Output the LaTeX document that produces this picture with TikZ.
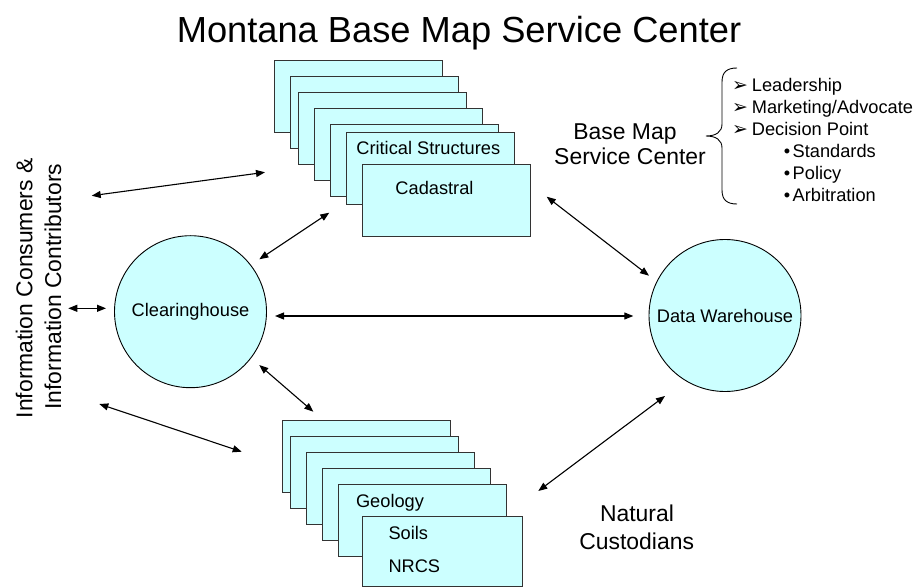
\documentclass[tikz,border=0pt]{standalone}
\usepackage{fontspec}
\setmainfont{Liberation Sans}
\newfontfamily\dejavu{DejaVu Sans}
\usetikzlibrary{arrows.meta}
\definecolor{cardfill}{HTML}{CCFFFF}
\begin{document}
\begin{tikzpicture}[x=1bp,y=-1bp,
  card/.style={draw=black!80, fill=cardfill, line width=0.9bp, minimum width=168bp, minimum height=72bp, anchor=north west, inner sep=0pt},
  hub/.style={circle, draw=black, fill=cardfill, line width=0.9bp, minimum size=152bp, inner sep=0pt, font=\fontsize{18.3}{20}\selectfont},
  lbl/.style={inner sep=0pt, anchor=base},
  lblw/.style={inner sep=0pt, anchor=base west},
  small/.style={font=\fontsize{18.3}{20}\selectfont},
  big/.style={font=\fontsize{23}{26}\selectfont},
  link/.style={{Triangle[length=9bp,width=7bp]}-{Triangle[length=9bp,width=7bp]}, line width=1.1bp, draw=black}]
\useasboundingbox (0,0) rectangle (919,588);
% title
\node[lbl, font=\fontsize{36.4}{40}\selectfont] (title) at (459,43) {Montana Base Map Service Center};
% top stack
\node[card] (t1) at (274,60) {};
\node[card] (t2) at (290,76) {};
\node[card] (t3) at (298,92) {};
\node[card] (t4) at (314,108) {};
\node[card] (t5) at (330,124) {};
\node[card] (t6) at (346,132) {};
\node[lbl, small] (crit) at (428.3,155) {Critical Structures};
\node[card] (t7) at (362,164) {};
\node[lbl, small] (cad) at (434.5,195) {Cadastral};
% bottom stack
\node[card] (b1) at (282,420) {};
\node[card] (b2) at (290,436) {};
\node[card] (b3) at (306,452) {};
\node[card] (b4) at (322,468) {};
\node[card] (b5) at (338,484) {};
\node[lbl, small] (geo) at (390,507.3) {Geology};
\node[card, minimum width=160bp, minimum height=70bp] (b6) at (362,516) {};
\node[lblw, small] (soils) at (388.3,539.3) {Soils};
\node[lblw, small] (nrcs) at (388.3,572.6) {NRCS};
% hubs
\node[hub] (ch) at (190.5,311.7) {Clearinghouse};
\node[hub] (dw) at (725,315.5) {Data Warehouse};
% side labels
\node[lbl, big, rotate=90] (cons) at (32.3,288.3) {Information Consumers \&};
\node[lbl, big, rotate=90] (contr) at (61,286.7) {Information Contributors};
\node[lbl, big] (bm1) at (625,140) {Base Map};
\node[lbl, big] (bm2) at (630,165) {Service Center};
\node[lbl, big] (nc1) at (637,521.7) {Natural};
\node[lbl, big] (nc2) at (636.7,549.3) {Custodians};
% brace and list
\draw[line width=0.9bp] (737,68) .. controls (727,68) and (722,72) .. (722,82) -- (722,124) .. controls (722,132) and (716,136) .. (706,136) .. controls (716,136) and (722,140) .. (722,148) -- (722,190) .. controls (722,200) and (727,204) .. (737,204);
\foreach \y/\t [count=\i] in {91.5/Leadership, 113.5/Marketing\slash Advocate, 135.5/Decision Point}{
  \node[lbl, font=\dejavu\fontsize{19}{20}\selectfont] (arr\i) at (740,\y) {➢};
  \node[lblw, small] (item\i) at (751.7,\y) {\t};
}
\foreach \y/\t [count=\i] in {158/Standards, 180/Policy, 202/Arbitration}{
  \node[lbl, small] (dot\i) at (787,\y) {•};
  \node[lblw, small] (sub\i) at (792.5,\y) {\t};
}
% connector end points
\coordinate (a1s) at (91.7,195.7);  \coordinate (a1e) at (265,172.3);
\coordinate (a2s) at (259.3,259.3); \coordinate (a2e) at (329.3,212.7);
\coordinate (a3s) at (275,316);     \coordinate (a3e) at (633.3,316);
\coordinate (a4s) at (68.3,308.3);  \coordinate (a4e) at (106,308.3);
\coordinate (a5s) at (259.3,365);   \coordinate (a5e) at (313.3,411.7);
\coordinate (a6s) at (99.3,404);    \coordinate (a6e) at (241.7,451.7);
\coordinate (a7s) at (546.7,196.7); \coordinate (a7e) at (649,275.7);
\coordinate (a8s) at (665,396);     \coordinate (a8e) at (538.3,491);
\foreach \i in {1,...,8}{
  \draw[link] (a\i s) -- (a\i e);
}
\end{tikzpicture}
\end{document}
